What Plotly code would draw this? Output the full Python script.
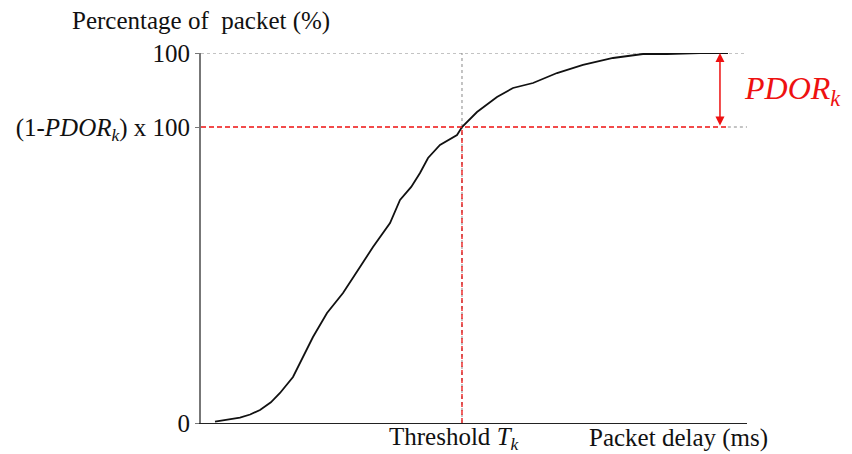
import plotly.graph_objects as go

delay_x = [2.56, 5.0, 7.14, 9.0, 10.81, 12.8, 14.47, 16.85, 19.05, 20.51, 23.08, 26.01,
           29.12, 31.50, 34.62, 36.45, 38.5, 40.11, 41.58, 42.86, 43.77, 46.89, 47.80,
           50.55, 54.21, 57.14, 60.81, 65.20, 69.96, 75.46, 80.95, 85.35, 91.39, 96.52]
cdf_y = [0.35, 0.9, 1.43, 2.3, 3.51, 5.6, 8.11, 12.43, 18.92, 23.24, 29.73, 35.14,
         42.16, 47.57, 54.05, 60.27, 63.8, 67.57, 71.62, 73.78, 75.14, 77.84, 80.0,
         84.05, 88.11, 90.54, 91.89, 94.59, 96.76, 98.65, 99.73, 99.73, 100.0, 100.0]

threshold_x = 47.8
pdor_level = 80.0
arrow_x = 95.05
red_end_x = 96.5

y_tick_vals = [0, pdor_level, 100]
y_tick_text = ["0", "(1-<i>PDOR</i><sub><i>k</i></sub>) x 100", "100"]
threshold_label = "Threshold <i>T</i><sub><i>k</i></sub>"
x_axis_label = "Packet delay (ms)"
y_axis_label = "Percentage of  packet (%)"
pdor_label = "<i>PDOR</i><sub><i>k</i></sub>"

FONT = "Liberation Serif"
RED = "#ee1111"
INK = "#111111"

fig = go.Figure()
fig.add_trace(go.Scatter(x=delay_x, y=cdf_y, mode="lines",
                         line=dict(color=INK, width=1.8), showlegend=False))

shapes = [
    dict(type="line", xref="x", yref="y", x0=0, x1=100, y0=100, y1=100,
         line=dict(color="#888888", width=1, dash="dot"), layer="below"),
    dict(type="line", xref="x", yref="y", x0=0, x1=red_end_x, y0=pdor_level, y1=pdor_level,
         line=dict(color=RED, width=1.3, dash="5px,3px")),
    dict(type="line", xref="x", yref="y", x0=red_end_x, x1=100, y0=pdor_level, y1=pdor_level,
         line=dict(color="#888888", width=1, dash="dot")),
    dict(type="line", xref="x", yref="y", x0=threshold_x, x1=threshold_x, y0=pdor_level, y1=100,
         line=dict(color="#888888", width=1, dash="dot"), layer="below"),
    dict(type="line", xref="x", yref="y", x0=threshold_x, x1=threshold_x, y0=0, y1=pdor_level,
         line=dict(color="#888888", width=1, dash="dot"), layer="below"),
    dict(type="line", xref="x", yref="y", x0=threshold_x, x1=threshold_x, y0=0, y1=pdor_level,
         line=dict(color=RED, width=1.3, dash="5px,3px")),
]

annotations = [
    dict(xref="paper", yref="paper", x=0, y=1.086, xanchor="center", yanchor="middle",
         text=y_axis_label, showarrow=False,
         font=dict(family=FONT, size=25, color=INK)),
    dict(xref="paper", yref="paper", x=0.874, y=-0.041, xanchor="center", yanchor="middle",
         text=x_axis_label, showarrow=False,
         font=dict(family=FONT, size=25, color=INK)),
    dict(xref="x", yref="paper", x=threshold_x, xshift=-7, y=-0.041, xanchor="center",
         yanchor="middle", text=threshold_label, showarrow=False,
         font=dict(family=FONT, size=25, color=INK)),
    dict(xref="paper", yref="paper", x=0.9915, y=0.9, xanchor="left", yanchor="middle",
         text=pdor_label, showarrow=False,
         font=dict(family=FONT, size=32, color=RED)),
    dict(xref="x", yref="y", x=arrow_x, y=100, ax=arrow_x, ay=pdor_level,
         axref="x", ayref="y", text="", showarrow=True, arrowside="end+start",
         arrowhead=2, arrowsize=1.2, arrowwidth=1.5, arrowcolor=RED,
         startarrowhead=2, startarrowsize=1.2),
]

# The page body adds an 8px offset; margins compensate so the plot area sits
# at x 201-747, y 53-423 in the 852x454 window.
fig.update_layout(
    width=844, height=446,
    margin=dict(l=193, r=105, t=45, b=31),
    paper_bgcolor="white", plot_bgcolor="white",
    shapes=shapes, annotations=annotations,
    xaxis=dict(range=[0, 100], showgrid=False, zeroline=False, showline=True,
               linecolor="#222222", linewidth=1.2, showticklabels=False,
               ticks="", automargin=False),
    yaxis=dict(range=[0, 100], showgrid=False, zeroline=False, showline=True,
               linecolor="#777777", linewidth=1.8, tickvals=y_tick_vals,
               ticktext=y_tick_text, ticks="outside", ticklen=4, tickcolor="#777777",
               automargin=False,
               tickfont=dict(family=FONT, size=25, color=INK)),
)

fig.write_html("out.html")
